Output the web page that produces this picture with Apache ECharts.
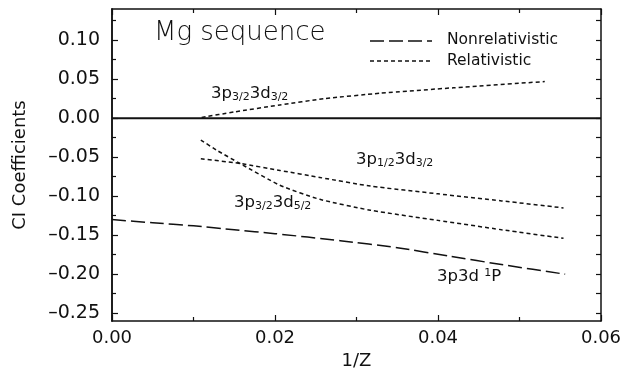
<!DOCTYPE html>
<html>
<head>
<meta charset="utf-8">
<script src="https://cdn.jsdelivr.net/npm/echarts@6/dist/echarts.min.js"></script>
<style>html,body{margin:0;padding:0;background:#fff}#c{width:620px;height:369px}</style>
</head>
<body>
<div id="c"></div>
<script>
// ---- data ----
var nonrelX = [0.0, 0.005, 0.010, 0.015, 0.020, 0.028, 0.035, 0.0415, 0.048, 0.0556];
var nonrelY = [-0.130, -0.134, -0.138, -0.143, -0.148, -0.157, -0.166, -0.177, -0.188, -0.200];

var relP32D32X = [0.0110, 0.0150, 0.0206, 0.0260, 0.0329, 0.0419, 0.0531];
var relP32D32Y = [0.001, 0.008, 0.017, 0.025, 0.032, 0.039, 0.047];

var relP12D32X = [0.0109, 0.0157, 0.0206, 0.0255, 0.0317, 0.0400, 0.0478, 0.0554];
var relP12D32Y = [-0.052, -0.058, -0.067, -0.076, -0.087, -0.097, -0.106, -0.115];

var relP32D52X = [0.0109, 0.0130, 0.0157, 0.0206, 0.0255, 0.0317, 0.0400, 0.0478, 0.0554];
var relP32D52Y = [-0.028, -0.042, -0.058, -0.086, -0.104, -0.118, -0.131, -0.143, -0.154];

var zeroLineX = [0.0, 0.06];
var zeroLineY = [0.0, 0.0];

var yMajorTicks = [-0.25, -0.20, -0.15, -0.10, -0.05, 0.00, 0.05, 0.10];
var yMinorTicks = [-0.225, -0.175, -0.125, -0.075, -0.025, 0.025, 0.075, 0.125];
var yAllTicks = [-0.25, -0.225, -0.20, -0.175, -0.15, -0.125, -0.10, -0.075, -0.05, -0.025, 0.00, 0.025, 0.05, 0.075, 0.10, 0.125];

var legendNames = ['Nonrelativistic', 'Relativistic'];

function pairs(xs, ys) { return xs.map(function (x, i) { return [x, ys[i]]; }); }

var FONT = 'DejaVu Sans';
var INK = '#111';

var chart = echarts.init(document.getElementById('c'), null, {renderer: 'canvas'});

var xBase = {
  type: 'value', min: 0, max: 0.06, interval: 0.02,
  axisLine: {show: true, onZero: false, lineStyle: {color: INK, width: 1.5}},
  axisTick: {show: true, inside: true, length: 6, lineStyle: {color: INK, width: 1.2}},
  minorTick: {show: true, splitNumber: 2, length: 4, lineStyle: {color: INK, width: 1.2}},
  splitLine: {show: false}
};
function yAxisDef(pos, ticks, len, labels) {
  return {
    type: 'value', min: -0.26, max: 0.14, position: pos,
    axisLine: {show: true, onZero: false, lineStyle: {color: INK, width: 1.5}},
    axisTick: {show: true, inside: true, length: len, customValues: ticks, lineStyle: {color: INK, width: 1.2}},
    axisLabel: labels ? {show: true, customValues: yMajorTicks, margin: 12, fontFamily: FONT, fontSize: 19, color: INK,
      formatter: function (v) { return (v < 0 ? '\u2013' + Math.abs(v).toFixed(2) : v.toFixed(2)); }} : {show: false},
    splitLine: {show: false}
  };
}

var yLeft = yAxisDef('left', yMajorTicks, 6, true);
yLeft.name = 'CI Coefficients';
yLeft.nameLocation = 'middle';
yLeft.nameGap = 83;
yLeft.nameTextStyle = {fontFamily: FONT, fontSize: 18, color: INK};

var xBottom = echarts.util.merge({
  position: 'bottom',
  axisLabel: {show: true, margin: 8, fontFamily: FONT, fontSize: 18, color: INK,
    formatter: function (v) { return v.toFixed(2); }},
  name: '1/Z', nameLocation: 'middle', nameGap: 22,
  nameTextStyle: {fontFamily: FONT, fontSize: 18, color: INK}
}, echarts.util.clone(xBase), false);
var xTop = echarts.util.merge({position: 'top', axisLabel: {show: false}}, echarts.util.clone(xBase), false);

var relStyle = {color: INK, width: 1.5, type: [4, 3]};
var nonrelStyle = {color: INK, width: 1.5, type: [14, 5]};

var subRich = {s: {fontSize: 11, fontFamily: FONT, fill: INK, padding: [8, 0, 0, 0]}};
var labelFont = '16.5px "DejaVu Sans"';

function curve(name, xs, ys, style) {
  return {name: name, type: 'line', data: pairs(xs, ys), symbol: 'none', smooth: 0.2,
    lineStyle: style};
}

var option = {
  animation: false,
  backgroundColor: '#fff',
  grid: {left: 112, right: 19, top: 9, bottom: 48, containLabel: false, outerBoundsMode: 'none'},
  xAxis: [xBottom, xTop],
  yAxis: [yLeft, yAxisDef('left', yMinorTicks, 4, false), yAxisDef('right', yAllTicks, 5, false)],
  series: [
    {name: 'zero', type: 'line', data: pairs(zeroLineX, zeroLineY), symbol: 'none', silent: true,
      lineStyle: {color: INK, width: 2}, z: 1},
    curve('Nonrelativistic', nonrelX, nonrelY, nonrelStyle),
    curve('Relativistic', relP32D32X, relP32D32Y, relStyle),
    curve('Relativistic', relP12D32X, relP12D32Y, relStyle),
    curve('Relativistic', relP32D52X, relP32D52Y, relStyle)
  ],
  graphic: [
    {type: 'text', left: 154, top: 20, style: {text: 'Mg sequence', font: '200 26px "DejaVu Sans"', fill: INK}},
    // legend
    {type: 'line', shape: {x1: 370, y1: 41, x2: 432, y2: 41}, style: {stroke: INK, lineWidth: 1.5, lineDash: [14, 5]}},
    {type: 'text', left: 447, top: 32, style: {text: legendNames[0], font: '15.5px "DejaVu Sans"', fill: INK}},
    {type: 'line', shape: {x1: 370, y1: 61, x2: 432, y2: 61}, style: {stroke: INK, lineWidth: 1.5, lineDash: [4, 3]}},
    {type: 'text', left: 447, top: 53, style: {text: legendNames[1], font: '15.5px "DejaVu Sans"', fill: INK}},
    // curve labels
    {type: 'text', left: 211, top: 85, style: {text: '3p{s|3/2}3d{s|3/2}', fill: INK, font: labelFont, rich: subRich}},
    {type: 'text', left: 356, top: 151, style: {text: '3p{s|1/2}3d{s|3/2}', fill: INK, font: labelFont, rich: subRich}},
    {type: 'text', left: 234, top: 194, style: {text: '3p{s|3/2}3d{s|5/2}', fill: INK, font: labelFont, rich: subRich}},
    {type: 'text', left: 437, top: 268, style: {
      text: '3p3d {u|1}P', fill: INK, font: labelFont,
      rich: {u: {fontSize: 11, fontFamily: FONT, fill: INK, padding: [0, 0, 7, 0]}}}}
  ]
};
chart.setOption(option);
</script>
</body>
</html>
